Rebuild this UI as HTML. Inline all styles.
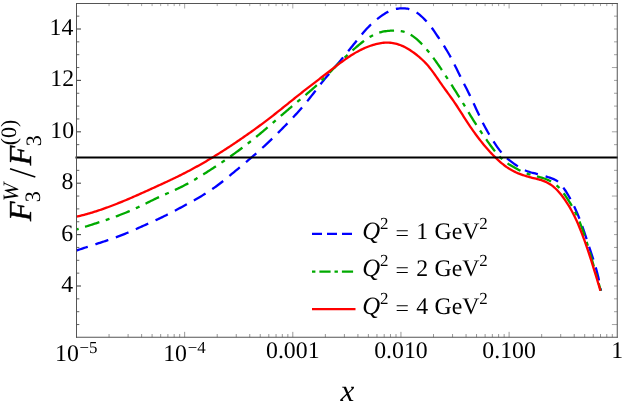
<!DOCTYPE html>
<html><head><meta charset="utf-8"><title>plot</title>
<style>
html,body{margin:0;padding:0;background:#fff;}
body{width:623px;height:413px;overflow:hidden;font-family:"Liberation Serif",serif;}
svg{display:block;will-change:transform;}
text{font-family:"Liberation Serif",serif;fill:#000;text-rendering:geometricPrecision;}
.it{font-style:italic;}
</style></head><body>
<svg width="623" height="413" viewBox="0 0 623 413">
<rect x="0" y="0" width="623" height="413" fill="#fff"/>

<line x1="76.50" y1="324.55" x2="79.30" y2="324.55" stroke="#505050" stroke-width="0.9"/>
<line x1="617.25" y1="324.55" x2="611.90" y2="324.55" stroke="#505050" stroke-width="0.52"/>
<line x1="76.50" y1="311.70" x2="79.30" y2="311.70" stroke="#505050" stroke-width="0.9"/>
<line x1="617.25" y1="311.70" x2="614.00" y2="311.70" stroke="#505050" stroke-width="0.52"/>
<line x1="76.50" y1="298.85" x2="79.30" y2="298.85" stroke="#505050" stroke-width="0.9"/>
<line x1="617.25" y1="298.85" x2="614.00" y2="298.85" stroke="#505050" stroke-width="0.52"/>
<line x1="76.50" y1="286.00" x2="81.00" y2="286.00" stroke="#505050" stroke-width="1.15"/>
<line x1="617.25" y1="286.00" x2="614.00" y2="286.00" stroke="#505050" stroke-width="0.52"/>
<line x1="76.50" y1="273.15" x2="79.30" y2="273.15" stroke="#505050" stroke-width="0.9"/>
<line x1="617.25" y1="273.15" x2="614.00" y2="273.15" stroke="#505050" stroke-width="0.52"/>
<line x1="76.50" y1="260.30" x2="79.30" y2="260.30" stroke="#505050" stroke-width="0.9"/>
<line x1="617.25" y1="260.30" x2="611.90" y2="260.30" stroke="#505050" stroke-width="0.52"/>
<line x1="76.50" y1="247.45" x2="79.30" y2="247.45" stroke="#505050" stroke-width="0.9"/>
<line x1="617.25" y1="247.45" x2="614.00" y2="247.45" stroke="#505050" stroke-width="0.52"/>
<line x1="76.50" y1="234.60" x2="81.00" y2="234.60" stroke="#505050" stroke-width="1.15"/>
<line x1="617.25" y1="234.60" x2="614.00" y2="234.60" stroke="#505050" stroke-width="0.52"/>
<line x1="76.50" y1="221.75" x2="79.30" y2="221.75" stroke="#505050" stroke-width="0.9"/>
<line x1="617.25" y1="221.75" x2="614.00" y2="221.75" stroke="#505050" stroke-width="0.52"/>
<line x1="76.50" y1="208.90" x2="79.30" y2="208.90" stroke="#505050" stroke-width="0.9"/>
<line x1="617.25" y1="208.90" x2="614.00" y2="208.90" stroke="#505050" stroke-width="0.52"/>
<line x1="76.50" y1="196.05" x2="79.30" y2="196.05" stroke="#505050" stroke-width="0.9"/>
<line x1="617.25" y1="196.05" x2="611.90" y2="196.05" stroke="#505050" stroke-width="0.52"/>
<line x1="76.50" y1="183.20" x2="81.00" y2="183.20" stroke="#505050" stroke-width="1.15"/>
<line x1="617.25" y1="183.20" x2="614.00" y2="183.20" stroke="#505050" stroke-width="0.52"/>
<line x1="76.50" y1="170.35" x2="79.30" y2="170.35" stroke="#505050" stroke-width="0.9"/>
<line x1="617.25" y1="170.35" x2="614.00" y2="170.35" stroke="#505050" stroke-width="0.52"/>
<line x1="76.50" y1="157.50" x2="79.30" y2="157.50" stroke="#505050" stroke-width="0.9"/>
<line x1="617.25" y1="157.50" x2="614.00" y2="157.50" stroke="#505050" stroke-width="0.52"/>
<line x1="76.50" y1="144.65" x2="79.30" y2="144.65" stroke="#505050" stroke-width="0.9"/>
<line x1="617.25" y1="144.65" x2="614.00" y2="144.65" stroke="#505050" stroke-width="0.52"/>
<line x1="76.50" y1="131.80" x2="81.00" y2="131.80" stroke="#505050" stroke-width="1.15"/>
<line x1="617.25" y1="131.80" x2="611.90" y2="131.80" stroke="#505050" stroke-width="0.52"/>
<line x1="76.50" y1="118.95" x2="79.30" y2="118.95" stroke="#505050" stroke-width="0.9"/>
<line x1="617.25" y1="118.95" x2="614.00" y2="118.95" stroke="#505050" stroke-width="0.52"/>
<line x1="76.50" y1="106.10" x2="79.30" y2="106.10" stroke="#505050" stroke-width="0.9"/>
<line x1="617.25" y1="106.10" x2="614.00" y2="106.10" stroke="#505050" stroke-width="0.52"/>
<line x1="76.50" y1="93.25" x2="79.30" y2="93.25" stroke="#505050" stroke-width="0.9"/>
<line x1="617.25" y1="93.25" x2="614.00" y2="93.25" stroke="#505050" stroke-width="0.52"/>
<line x1="76.50" y1="80.40" x2="81.00" y2="80.40" stroke="#505050" stroke-width="1.15"/>
<line x1="617.25" y1="80.40" x2="614.00" y2="80.40" stroke="#505050" stroke-width="0.52"/>
<line x1="76.50" y1="67.55" x2="79.30" y2="67.55" stroke="#505050" stroke-width="0.9"/>
<line x1="617.25" y1="67.55" x2="611.90" y2="67.55" stroke="#505050" stroke-width="0.52"/>
<line x1="76.50" y1="54.70" x2="79.30" y2="54.70" stroke="#505050" stroke-width="0.9"/>
<line x1="617.25" y1="54.70" x2="614.00" y2="54.70" stroke="#505050" stroke-width="0.52"/>
<line x1="76.50" y1="41.85" x2="79.30" y2="41.85" stroke="#505050" stroke-width="0.9"/>
<line x1="617.25" y1="41.85" x2="614.00" y2="41.85" stroke="#505050" stroke-width="0.52"/>
<line x1="76.50" y1="29.00" x2="81.00" y2="29.00" stroke="#505050" stroke-width="1.15"/>
<line x1="617.25" y1="29.00" x2="614.00" y2="29.00" stroke="#505050" stroke-width="0.52"/>
<line x1="76.50" y1="16.15" x2="79.30" y2="16.15" stroke="#505050" stroke-width="0.9"/>
<line x1="617.25" y1="16.15" x2="614.00" y2="16.15" stroke="#505050" stroke-width="0.52"/>
<line x1="109.06" y1="337.25" x2="109.06" y2="334.00" stroke="#505050" stroke-width="0.6"/>
<line x1="109.06" y1="3.50" x2="109.06" y2="6.10" stroke="#505050" stroke-width="0.5"/>
<line x1="128.10" y1="337.25" x2="128.10" y2="334.00" stroke="#505050" stroke-width="0.6"/>
<line x1="128.10" y1="3.50" x2="128.10" y2="6.10" stroke="#505050" stroke-width="0.5"/>
<line x1="141.61" y1="337.25" x2="141.61" y2="334.00" stroke="#505050" stroke-width="0.6"/>
<line x1="141.61" y1="3.50" x2="141.61" y2="6.10" stroke="#505050" stroke-width="0.5"/>
<line x1="152.09" y1="337.25" x2="152.09" y2="334.00" stroke="#505050" stroke-width="0.6"/>
<line x1="152.09" y1="3.50" x2="152.09" y2="6.10" stroke="#505050" stroke-width="0.5"/>
<line x1="160.66" y1="337.25" x2="160.66" y2="334.00" stroke="#505050" stroke-width="0.6"/>
<line x1="160.66" y1="3.50" x2="160.66" y2="6.10" stroke="#505050" stroke-width="0.5"/>
<line x1="167.90" y1="337.25" x2="167.90" y2="334.00" stroke="#505050" stroke-width="0.6"/>
<line x1="167.90" y1="3.50" x2="167.90" y2="6.10" stroke="#505050" stroke-width="0.5"/>
<line x1="174.17" y1="337.25" x2="174.17" y2="334.00" stroke="#505050" stroke-width="0.6"/>
<line x1="174.17" y1="3.50" x2="174.17" y2="6.10" stroke="#505050" stroke-width="0.5"/>
<line x1="179.70" y1="337.25" x2="179.70" y2="334.00" stroke="#505050" stroke-width="0.6"/>
<line x1="179.70" y1="3.50" x2="179.70" y2="6.10" stroke="#505050" stroke-width="0.5"/>
<line x1="184.65" y1="337.25" x2="184.65" y2="331.85" stroke="#505050" stroke-width="0.6"/>
<line x1="184.65" y1="3.50" x2="184.65" y2="8.50" stroke="#505050" stroke-width="0.5"/>
<line x1="217.21" y1="337.25" x2="217.21" y2="334.00" stroke="#505050" stroke-width="0.6"/>
<line x1="217.21" y1="3.50" x2="217.21" y2="6.10" stroke="#505050" stroke-width="0.5"/>
<line x1="236.25" y1="337.25" x2="236.25" y2="334.00" stroke="#505050" stroke-width="0.6"/>
<line x1="236.25" y1="3.50" x2="236.25" y2="6.10" stroke="#505050" stroke-width="0.5"/>
<line x1="249.76" y1="337.25" x2="249.76" y2="334.00" stroke="#505050" stroke-width="0.6"/>
<line x1="249.76" y1="3.50" x2="249.76" y2="6.10" stroke="#505050" stroke-width="0.5"/>
<line x1="260.24" y1="337.25" x2="260.24" y2="334.00" stroke="#505050" stroke-width="0.6"/>
<line x1="260.24" y1="3.50" x2="260.24" y2="6.10" stroke="#505050" stroke-width="0.5"/>
<line x1="268.81" y1="337.25" x2="268.81" y2="334.00" stroke="#505050" stroke-width="0.6"/>
<line x1="268.81" y1="3.50" x2="268.81" y2="6.10" stroke="#505050" stroke-width="0.5"/>
<line x1="276.05" y1="337.25" x2="276.05" y2="334.00" stroke="#505050" stroke-width="0.6"/>
<line x1="276.05" y1="3.50" x2="276.05" y2="6.10" stroke="#505050" stroke-width="0.5"/>
<line x1="282.32" y1="337.25" x2="282.32" y2="334.00" stroke="#505050" stroke-width="0.6"/>
<line x1="282.32" y1="3.50" x2="282.32" y2="6.10" stroke="#505050" stroke-width="0.5"/>
<line x1="287.85" y1="337.25" x2="287.85" y2="334.00" stroke="#505050" stroke-width="0.6"/>
<line x1="287.85" y1="3.50" x2="287.85" y2="6.10" stroke="#505050" stroke-width="0.5"/>
<line x1="292.80" y1="337.25" x2="292.80" y2="331.85" stroke="#505050" stroke-width="0.6"/>
<line x1="292.80" y1="3.50" x2="292.80" y2="8.50" stroke="#505050" stroke-width="0.5"/>
<line x1="325.36" y1="337.25" x2="325.36" y2="334.00" stroke="#505050" stroke-width="0.6"/>
<line x1="325.36" y1="3.50" x2="325.36" y2="6.10" stroke="#505050" stroke-width="0.5"/>
<line x1="344.40" y1="337.25" x2="344.40" y2="334.00" stroke="#505050" stroke-width="0.6"/>
<line x1="344.40" y1="3.50" x2="344.40" y2="6.10" stroke="#505050" stroke-width="0.5"/>
<line x1="357.91" y1="337.25" x2="357.91" y2="334.00" stroke="#505050" stroke-width="0.6"/>
<line x1="357.91" y1="3.50" x2="357.91" y2="6.10" stroke="#505050" stroke-width="0.5"/>
<line x1="368.39" y1="337.25" x2="368.39" y2="334.00" stroke="#505050" stroke-width="0.6"/>
<line x1="368.39" y1="3.50" x2="368.39" y2="6.10" stroke="#505050" stroke-width="0.5"/>
<line x1="376.96" y1="337.25" x2="376.96" y2="334.00" stroke="#505050" stroke-width="0.6"/>
<line x1="376.96" y1="3.50" x2="376.96" y2="6.10" stroke="#505050" stroke-width="0.5"/>
<line x1="384.20" y1="337.25" x2="384.20" y2="334.00" stroke="#505050" stroke-width="0.6"/>
<line x1="384.20" y1="3.50" x2="384.20" y2="6.10" stroke="#505050" stroke-width="0.5"/>
<line x1="390.47" y1="337.25" x2="390.47" y2="334.00" stroke="#505050" stroke-width="0.6"/>
<line x1="390.47" y1="3.50" x2="390.47" y2="6.10" stroke="#505050" stroke-width="0.5"/>
<line x1="396.00" y1="337.25" x2="396.00" y2="334.00" stroke="#505050" stroke-width="0.6"/>
<line x1="396.00" y1="3.50" x2="396.00" y2="6.10" stroke="#505050" stroke-width="0.5"/>
<line x1="400.95" y1="337.25" x2="400.95" y2="331.85" stroke="#505050" stroke-width="0.6"/>
<line x1="400.95" y1="3.50" x2="400.95" y2="8.50" stroke="#505050" stroke-width="0.5"/>
<line x1="433.51" y1="337.25" x2="433.51" y2="334.00" stroke="#505050" stroke-width="0.6"/>
<line x1="433.51" y1="3.50" x2="433.51" y2="6.10" stroke="#505050" stroke-width="0.5"/>
<line x1="452.55" y1="337.25" x2="452.55" y2="334.00" stroke="#505050" stroke-width="0.6"/>
<line x1="452.55" y1="3.50" x2="452.55" y2="6.10" stroke="#505050" stroke-width="0.5"/>
<line x1="466.06" y1="337.25" x2="466.06" y2="334.00" stroke="#505050" stroke-width="0.6"/>
<line x1="466.06" y1="3.50" x2="466.06" y2="6.10" stroke="#505050" stroke-width="0.5"/>
<line x1="476.54" y1="337.25" x2="476.54" y2="334.00" stroke="#505050" stroke-width="0.6"/>
<line x1="476.54" y1="3.50" x2="476.54" y2="6.10" stroke="#505050" stroke-width="0.5"/>
<line x1="485.11" y1="337.25" x2="485.11" y2="334.00" stroke="#505050" stroke-width="0.6"/>
<line x1="485.11" y1="3.50" x2="485.11" y2="6.10" stroke="#505050" stroke-width="0.5"/>
<line x1="492.35" y1="337.25" x2="492.35" y2="334.00" stroke="#505050" stroke-width="0.6"/>
<line x1="492.35" y1="3.50" x2="492.35" y2="6.10" stroke="#505050" stroke-width="0.5"/>
<line x1="498.62" y1="337.25" x2="498.62" y2="334.00" stroke="#505050" stroke-width="0.6"/>
<line x1="498.62" y1="3.50" x2="498.62" y2="6.10" stroke="#505050" stroke-width="0.5"/>
<line x1="504.15" y1="337.25" x2="504.15" y2="334.00" stroke="#505050" stroke-width="0.6"/>
<line x1="504.15" y1="3.50" x2="504.15" y2="6.10" stroke="#505050" stroke-width="0.5"/>
<line x1="509.10" y1="337.25" x2="509.10" y2="331.85" stroke="#505050" stroke-width="0.6"/>
<line x1="509.10" y1="3.50" x2="509.10" y2="8.50" stroke="#505050" stroke-width="0.5"/>
<line x1="541.66" y1="337.25" x2="541.66" y2="334.00" stroke="#505050" stroke-width="0.6"/>
<line x1="541.66" y1="3.50" x2="541.66" y2="6.10" stroke="#505050" stroke-width="0.5"/>
<line x1="560.70" y1="337.25" x2="560.70" y2="334.00" stroke="#505050" stroke-width="0.6"/>
<line x1="560.70" y1="3.50" x2="560.70" y2="6.10" stroke="#505050" stroke-width="0.5"/>
<line x1="574.21" y1="337.25" x2="574.21" y2="334.00" stroke="#505050" stroke-width="0.6"/>
<line x1="574.21" y1="3.50" x2="574.21" y2="6.10" stroke="#505050" stroke-width="0.5"/>
<line x1="584.69" y1="337.25" x2="584.69" y2="334.00" stroke="#505050" stroke-width="0.6"/>
<line x1="584.69" y1="3.50" x2="584.69" y2="6.10" stroke="#505050" stroke-width="0.5"/>
<line x1="593.26" y1="337.25" x2="593.26" y2="334.00" stroke="#505050" stroke-width="0.6"/>
<line x1="593.26" y1="3.50" x2="593.26" y2="6.10" stroke="#505050" stroke-width="0.5"/>
<line x1="600.50" y1="337.25" x2="600.50" y2="334.00" stroke="#505050" stroke-width="0.6"/>
<line x1="600.50" y1="3.50" x2="600.50" y2="6.10" stroke="#505050" stroke-width="0.5"/>
<line x1="606.77" y1="337.25" x2="606.77" y2="334.00" stroke="#505050" stroke-width="0.6"/>
<line x1="606.77" y1="3.50" x2="606.77" y2="6.10" stroke="#505050" stroke-width="0.5"/>
<line x1="612.30" y1="337.25" x2="612.30" y2="334.00" stroke="#505050" stroke-width="0.6"/>
<line x1="612.30" y1="3.50" x2="612.30" y2="6.10" stroke="#505050" stroke-width="0.5"/>
<path d="M76.30,250.60 L77.62,250.14 L78.93,249.68 L80.25,249.23 L81.56,248.79 L82.88,248.34 L84.19,247.91 L85.51,247.47 L86.82,247.04 L88.14,246.61 L89.45,246.19 L90.77,245.76 L92.08,245.34 L93.40,244.91 L94.71,244.49 L96.03,244.07 L97.34,243.64 L98.66,243.22 L99.97,242.79 L101.29,242.36 L102.60,241.93 L103.92,241.50 L105.23,241.07 L106.55,240.63 L107.86,240.18 L109.18,239.73 L110.49,239.28 L111.81,238.82 L113.12,238.36 L114.44,237.89 L115.75,237.41 L117.07,236.93 L118.38,236.43 L119.70,235.93 L121.01,235.43 L122.33,234.91 L123.64,234.38 L124.96,233.85 L126.27,233.30 L127.59,232.75 L128.90,232.20 L130.22,231.63 L131.53,231.06 L132.85,230.49 L134.16,229.91 L135.48,229.33 L136.79,228.74 L138.11,228.16 L139.42,227.57 L140.74,226.98 L142.05,226.39 L143.37,225.80 L144.68,225.21 L146.00,224.63 L147.31,224.04 L148.63,223.45 L149.94,222.86 L151.26,222.26 L152.57,221.66 L153.89,221.06 L155.20,220.46 L156.52,219.85 L157.83,219.24 L159.15,218.62 L160.46,217.99 L161.78,217.36 L163.09,216.72 L164.41,216.07 L165.72,215.41 L167.04,214.75 L168.35,214.08 L169.67,213.41 L170.98,212.73 L172.30,212.05 L173.61,211.36 L174.93,210.67 L176.24,209.98 L177.56,209.28 L178.87,208.58 L180.19,207.88 L181.50,207.18 L182.82,206.47 L184.13,205.77 L185.45,205.06 L186.76,204.35 L188.08,203.63 L189.39,202.91 L190.71,202.18 L192.02,201.45 L193.34,200.72 L194.65,199.98 L195.97,199.23 L197.28,198.47 L198.60,197.71 L199.91,196.93 L201.23,196.15 L202.54,195.36 L203.86,194.56 L205.17,193.74 L206.49,192.92 L207.80,192.08 L209.12,191.22 L210.43,190.35 L211.75,189.47 L213.06,188.57 L214.38,187.65 L215.69,186.71 L217.01,185.76 L218.32,184.78 L219.64,183.79 L220.95,182.77 L222.27,181.74 L223.58,180.69 L224.90,179.63 L226.21,178.56 L227.53,177.48 L228.84,176.40 L230.16,175.31 L231.47,174.22 L232.79,173.13 L234.10,172.05 L235.42,170.96 L236.73,169.88 L238.05,168.79 L239.36,167.70 L240.68,166.61 L241.99,165.52 L243.31,164.42 L244.62,163.32 L245.94,162.22 L247.25,161.11 L248.57,159.99 L249.88,158.87 L251.20,157.74 L252.52,156.61 L253.83,155.47 L255.15,154.32 L256.46,153.16 L257.78,151.99 L259.09,150.82 L260.41,149.64 L261.72,148.45 L263.04,147.25 L264.35,146.04 L265.67,144.82 L266.98,143.59 L268.30,142.36 L269.61,141.11 L270.93,139.85 L272.24,138.59 L273.56,137.31 L274.87,136.03 L276.19,134.74 L277.50,133.43 L278.82,132.12 L280.13,130.81 L281.45,129.48 L282.76,128.15 L284.08,126.80 L285.39,125.46 L286.71,124.10 L288.02,122.74 L289.34,121.37 L290.65,119.99 L291.97,118.60 L293.28,117.19 L294.60,115.78 L295.91,114.35 L297.23,112.90 L298.54,111.44 L299.86,109.96 L301.17,108.46 L302.49,106.93 L303.80,105.39 L305.12,103.82 L306.43,102.23 L307.75,100.61 L309.06,98.97 L310.38,97.31 L311.69,95.63 L313.01,93.94 L314.32,92.24 L315.64,90.53 L316.95,88.83 L318.27,87.13 L319.58,85.44 L320.90,83.76 L322.21,82.10 L323.53,80.47 L324.84,78.86 L326.16,77.27 L327.47,75.70 L328.79,74.15 L330.10,72.61 L331.42,71.09 L332.73,69.56 L334.05,68.04 L335.36,66.52 L336.68,65.00 L337.99,63.47 L339.31,61.93 L340.62,60.37 L341.94,58.80 L343.25,57.22 L344.57,55.63 L345.88,54.02 L347.20,52.41 L348.51,50.80 L349.83,49.17 L351.14,47.55 L352.46,45.92 L353.77,44.29 L355.09,42.66 L356.40,41.04 L357.72,39.41 L359.03,37.80 L360.35,36.20 L361.66,34.62 L362.98,33.06 L364.29,31.53 L365.61,30.04 L366.92,28.59 L368.24,27.19 L369.55,25.84 L370.87,24.55 L372.18,23.31 L373.50,22.12 L374.81,20.98 L376.13,19.89 L377.44,18.84 L378.76,17.82 L380.07,16.85 L381.39,15.91 L382.70,15.01 L384.02,14.15 L385.33,13.34 L386.65,12.58 L387.96,11.87 L389.28,11.22 L390.59,10.64 L391.91,10.13 L393.22,9.69 L394.54,9.32 L395.85,9.00 L397.17,8.75 L398.48,8.56 L399.80,8.42 L401.11,8.33 L402.43,8.29 L403.74,8.31 L405.06,8.38 L406.37,8.52 L407.69,8.72 L409.00,9.01 L410.32,9.37 L411.63,9.83 L412.95,10.39 L414.26,11.05 L415.58,11.81 L416.89,12.67 L418.21,13.62 L419.52,14.66 L420.84,15.78 L422.15,16.98 L423.47,18.25 L424.78,19.59 L426.10,20.99 L427.42,22.46 L428.73,23.99 L430.05,25.60 L431.36,27.29 L432.68,29.05 L433.99,30.90 L435.31,32.82 L436.62,34.78 L437.94,36.75 L439.25,38.72 L440.57,40.69 L441.88,42.67 L443.20,44.68 L444.51,46.73 L445.83,48.83 L447.14,50.99 L448.46,53.22 L449.77,55.54 L451.09,57.96 L452.40,60.46 L453.72,63.05 L455.03,65.68 L456.35,68.35 L457.66,71.04 L458.98,73.72 L460.29,76.38 L461.61,79.01 L462.92,81.60 L464.24,84.18 L465.55,86.76 L466.87,89.35 L468.18,91.97 L469.50,94.63 L470.81,97.35 L472.13,100.12 L473.44,102.94 L474.76,105.79 L476.07,108.65 L477.39,111.50 L478.70,114.33 L480.02,117.11 L481.33,119.84 L482.65,122.49 L483.96,125.06 L485.28,127.53 L486.59,129.92 L487.91,132.23 L489.22,134.48 L490.54,136.67 L491.85,138.79 L493.17,140.88 L494.48,142.91 L495.80,144.89 L497.11,146.80 L498.43,148.64 L499.74,150.40 L501.06,152.06 L502.37,153.62 L503.69,155.06 L505.00,156.40 L506.32,157.65 L507.63,158.81 L508.95,159.90 L510.26,160.94 L511.58,161.93 L512.89,162.89 L514.21,163.84 L515.52,164.76 L516.84,165.65 L518.15,166.51 L519.47,167.33 L520.78,168.11 L522.10,168.85 L523.41,169.53 L524.73,170.16 L526.04,170.73 L527.36,171.24 L528.67,171.69 L529.99,172.11 L531.30,172.49 L532.62,172.84 L533.93,173.17 L535.25,173.49 L536.56,173.82 L537.88,174.14 L539.19,174.49 L540.51,174.84 L541.82,175.21 L543.14,175.60 L544.45,175.99 L545.77,176.40 L547.08,176.81 L548.40,177.24 L549.71,177.67 L551.03,178.11 L552.34,178.57 L553.66,179.08 L554.97,179.68 L556.29,180.42 L557.60,181.32 L558.92,182.44 L560.23,183.76 L561.55,185.28 L562.86,186.97 L564.18,188.80 L565.49,190.74 L566.81,192.80 L568.12,194.97 L569.44,197.25 L570.75,199.64 L572.07,202.15 L573.38,204.78 L574.70,207.54 L576.01,210.44 L577.33,213.47 L578.64,216.64 L579.96,219.97 L581.27,223.45 L582.59,227.10 L583.90,230.91 L585.22,234.85 L586.53,238.87 L587.85,242.93 L589.16,246.97 L590.48,250.94 L591.79,254.84 L593.11,258.78 L594.42,262.90 L595.74,267.33 L597.05,272.19 L598.37,277.61 L599.68,283.74 L601.00,290.70" fill="none" stroke="#0000ff" stroke-width="2.3" stroke-dasharray="13.6 8" stroke-dashoffset="1.5"/>
<path d="M76.30,229.55 L77.61,229.13 L78.93,228.72 L80.24,228.30 L81.56,227.89 L82.87,227.47 L84.19,227.06 L85.50,226.65 L86.82,226.23 L88.13,225.82 L89.45,225.40 L90.76,224.98 L92.07,224.56 L93.39,224.14 L94.70,223.72 L96.02,223.30 L97.33,222.87 L98.65,222.44 L99.96,222.01 L101.28,221.58 L102.59,221.14 L103.91,220.70 L105.22,220.25 L106.53,219.81 L107.85,219.35 L109.16,218.90 L110.48,218.43 L111.79,217.97 L113.11,217.49 L114.42,217.02 L115.74,216.54 L117.05,216.05 L118.37,215.55 L119.68,215.05 L120.99,214.54 L122.31,214.03 L123.62,213.51 L124.94,212.98 L126.25,212.45 L127.57,211.90 L128.88,211.35 L130.20,210.79 L131.51,210.22 L132.83,209.65 L134.14,209.06 L135.45,208.47 L136.77,207.86 L138.08,207.25 L139.40,206.63 L140.71,205.99 L142.03,205.36 L143.34,204.71 L144.66,204.06 L145.97,203.41 L147.28,202.76 L148.60,202.10 L149.91,201.45 L151.23,200.80 L152.54,200.16 L153.86,199.52 L155.17,198.89 L156.49,198.27 L157.80,197.66 L159.12,197.06 L160.43,196.46 L161.74,195.87 L163.06,195.29 L164.37,194.70 L165.69,194.12 L167.00,193.54 L168.32,192.96 L169.63,192.38 L170.95,191.80 L172.26,191.21 L173.58,190.62 L174.89,190.01 L176.20,189.41 L177.52,188.79 L178.83,188.16 L180.15,187.52 L181.46,186.87 L182.78,186.20 L184.09,185.52 L185.41,184.83 L186.72,184.13 L188.04,183.41 L189.35,182.68 L190.66,181.94 L191.98,181.19 L193.29,180.43 L194.61,179.67 L195.92,178.89 L197.24,178.10 L198.55,177.31 L199.87,176.51 L201.18,175.70 L202.50,174.89 L203.81,174.07 L205.12,173.24 L206.44,172.41 L207.75,171.58 L209.07,170.74 L210.38,169.89 L211.70,169.05 L213.01,168.19 L214.33,167.33 L215.64,166.47 L216.96,165.60 L218.27,164.73 L219.58,163.85 L220.90,162.97 L222.21,162.08 L223.53,161.18 L224.84,160.28 L226.16,159.38 L227.47,158.47 L228.79,157.55 L230.10,156.63 L231.42,155.70 L232.73,154.76 L234.04,153.82 L235.36,152.88 L236.67,151.92 L237.99,150.96 L239.30,150.00 L240.62,149.02 L241.93,148.04 L243.25,147.05 L244.56,146.06 L245.88,145.06 L247.19,144.05 L248.50,143.03 L249.82,142.00 L251.13,140.97 L252.45,139.93 L253.76,138.88 L255.08,137.82 L256.39,136.75 L257.71,135.68 L259.02,134.59 L260.34,133.50 L261.65,132.40 L262.96,131.30 L264.28,130.18 L265.59,129.07 L266.91,127.95 L268.22,126.82 L269.54,125.69 L270.85,124.56 L272.17,123.43 L273.48,122.29 L274.79,121.15 L276.11,120.02 L277.42,118.88 L278.74,117.74 L280.05,116.61 L281.37,115.47 L282.68,114.34 L284.00,113.21 L285.31,112.09 L286.63,110.96 L287.94,109.84 L289.25,108.72 L290.57,107.60 L291.88,106.49 L293.20,105.38 L294.51,104.27 L295.83,103.16 L297.14,102.06 L298.46,100.96 L299.77,99.85 L301.09,98.76 L302.40,97.66 L303.71,96.55 L305.03,95.45 L306.34,94.34 L307.66,93.22 L308.97,92.10 L310.29,90.96 L311.60,89.82 L312.92,88.66 L314.23,87.48 L315.55,86.29 L316.86,85.08 L318.17,83.85 L319.49,82.61 L320.80,81.34 L322.12,80.06 L323.43,78.77 L324.75,77.46 L326.06,76.14 L327.38,74.82 L328.69,73.49 L330.01,72.16 L331.32,70.83 L332.63,69.49 L333.95,68.16 L335.26,66.84 L336.58,65.52 L337.89,64.21 L339.21,62.91 L340.52,61.62 L341.84,60.34 L343.15,59.08 L344.47,57.82 L345.78,56.58 L347.09,55.35 L348.41,54.13 L349.72,52.93 L351.04,51.74 L352.35,50.56 L353.67,49.40 L354.98,48.25 L356.30,47.11 L357.61,46.00 L358.93,44.90 L360.24,43.82 L361.55,42.77 L362.87,41.75 L364.18,40.76 L365.50,39.80 L366.81,38.89 L368.13,38.02 L369.44,37.19 L370.76,36.41 L372.07,35.68 L373.39,35.01 L374.70,34.38 L376.01,33.81 L377.33,33.29 L378.64,32.82 L379.96,32.41 L381.27,32.05 L382.59,31.74 L383.90,31.48 L385.22,31.26 L386.53,31.08 L387.85,30.93 L389.16,30.81 L390.47,30.71 L391.79,30.64 L393.10,30.58 L394.42,30.55 L395.73,30.56 L397.05,30.61 L398.36,30.70 L399.68,30.85 L400.99,31.06 L402.31,31.33 L403.62,31.67 L404.93,32.09 L406.25,32.57 L407.56,33.14 L408.88,33.78 L410.19,34.49 L411.51,35.28 L412.82,36.15 L414.14,37.09 L415.45,38.11 L416.76,39.20 L418.08,40.36 L419.39,41.58 L420.71,42.86 L422.02,44.21 L423.34,45.62 L424.65,47.08 L425.97,48.59 L427.28,50.15 L428.60,51.76 L429.91,53.42 L431.22,55.12 L432.54,56.86 L433.85,58.63 L435.17,60.44 L436.48,62.27 L437.80,64.14 L439.11,66.03 L440.43,67.94 L441.74,69.88 L443.06,71.83 L444.37,73.81 L445.68,75.80 L447.00,77.81 L448.31,79.83 L449.63,81.86 L450.94,83.90 L452.26,85.95 L453.57,88.02 L454.89,90.09 L456.20,92.17 L457.52,94.27 L458.83,96.38 L460.14,98.50 L461.46,100.64 L462.77,102.79 L464.09,104.96 L465.40,107.13 L466.72,109.31 L468.03,111.49 L469.35,113.66 L470.66,115.82 L471.98,117.96 L473.29,120.08 L474.60,122.16 L475.92,124.22 L477.23,126.24 L478.55,128.23 L479.86,130.20 L481.18,132.14 L482.49,134.06 L483.81,135.96 L485.12,137.84 L486.44,139.71 L487.75,141.57 L489.06,143.42 L490.38,145.24 L491.69,147.04 L493.01,148.80 L494.32,150.51 L495.64,152.16 L496.95,153.74 L498.27,155.25 L499.58,156.66 L500.90,157.99 L502.21,159.21 L503.52,160.35 L504.84,161.40 L506.15,162.39 L507.47,163.32 L508.78,164.19 L510.10,165.02 L511.41,165.82 L512.73,166.60 L514.04,167.36 L515.36,168.10 L516.67,168.83 L517.98,169.53 L519.30,170.21 L520.61,170.87 L521.93,171.49 L523.24,172.08 L524.56,172.63 L525.87,173.14 L527.19,173.61 L528.50,174.05 L529.82,174.46 L531.13,174.85 L532.44,175.21 L533.76,175.57 L535.07,175.91 L536.39,176.25 L537.70,176.60 L539.02,176.94 L540.33,177.31 L541.65,177.69 L542.96,178.10 L544.27,178.53 L545.59,179.00 L546.90,179.52 L548.22,180.08 L549.53,180.70 L550.85,181.38 L552.16,182.12 L553.48,182.95 L554.79,183.87 L556.11,184.89 L557.42,186.03 L558.73,187.30 L560.05,188.71 L561.36,190.26 L562.68,191.94 L563.99,193.72 L565.31,195.59 L566.62,197.53 L567.94,199.52 L569.25,201.58 L570.57,203.70 L571.88,205.92 L573.19,208.26 L574.51,210.72 L575.82,213.33 L577.14,216.10 L578.45,219.06 L579.77,222.22 L581.08,225.59 L582.40,229.17 L583.71,232.94 L585.03,236.88 L586.34,240.97 L587.65,245.19 L588.97,249.53 L590.28,253.96 L591.60,258.48 L592.91,263.05 L594.23,267.66 L595.54,272.30 L596.86,276.94 L598.17,281.56 L599.49,286.16 L600.80,290.70" fill="none" stroke="#00aa00" stroke-width="2.3" stroke-dasharray="15 6.7 4 6.7" stroke-dashoffset="23.2"/>
<path d="M76.30,216.70 L77.61,216.40 L78.93,216.10 L80.24,215.78 L81.55,215.45 L82.87,215.12 L84.18,214.77 L85.49,214.42 L86.81,214.06 L88.12,213.69 L89.44,213.31 L90.75,212.92 L92.06,212.53 L93.38,212.13 L94.69,211.72 L96.00,211.30 L97.32,210.87 L98.63,210.44 L99.94,210.00 L101.26,209.56 L102.57,209.10 L103.88,208.64 L105.20,208.18 L106.51,207.70 L107.82,207.22 L109.14,206.74 L110.45,206.25 L111.77,205.75 L113.08,205.25 L114.39,204.74 L115.71,204.22 L117.02,203.71 L118.33,203.18 L119.65,202.65 L120.96,202.12 L122.27,201.58 L123.59,201.04 L124.90,200.49 L126.21,199.94 L127.53,199.39 L128.84,198.83 L130.15,198.27 L131.47,197.70 L132.78,197.13 L134.10,196.56 L135.41,195.99 L136.72,195.41 L138.04,194.83 L139.35,194.24 L140.66,193.66 L141.98,193.07 L143.29,192.48 L144.60,191.89 L145.92,191.29 L147.23,190.70 L148.54,190.10 L149.86,189.51 L151.17,188.91 L152.48,188.31 L153.80,187.71 L155.11,187.11 L156.43,186.51 L157.74,185.90 L159.05,185.30 L160.37,184.70 L161.68,184.10 L162.99,183.49 L164.31,182.89 L165.62,182.28 L166.93,181.67 L168.25,181.05 L169.56,180.44 L170.87,179.82 L172.19,179.19 L173.50,178.57 L174.82,177.93 L176.13,177.30 L177.44,176.66 L178.76,176.01 L180.07,175.36 L181.38,174.71 L182.70,174.05 L184.01,173.38 L185.32,172.71 L186.64,172.03 L187.95,171.34 L189.26,170.65 L190.58,169.96 L191.89,169.25 L193.20,168.54 L194.52,167.83 L195.83,167.11 L197.15,166.38 L198.46,165.65 L199.77,164.91 L201.09,164.17 L202.40,163.42 L203.71,162.67 L205.03,161.91 L206.34,161.14 L207.65,160.36 L208.97,159.59 L210.28,158.80 L211.59,158.01 L212.91,157.21 L214.22,156.41 L215.53,155.60 L216.85,154.79 L218.16,153.97 L219.48,153.14 L220.79,152.31 L222.10,151.47 L223.42,150.63 L224.73,149.79 L226.04,148.94 L227.36,148.08 L228.67,147.22 L229.98,146.35 L231.30,145.48 L232.61,144.61 L233.92,143.73 L235.24,142.85 L236.55,141.96 L237.86,141.07 L239.18,140.18 L240.49,139.28 L241.81,138.38 L243.12,137.47 L244.43,136.56 L245.75,135.65 L247.06,134.73 L248.37,133.81 L249.69,132.88 L251.00,131.95 L252.31,131.01 L253.63,130.07 L254.94,129.13 L256.25,128.17 L257.57,127.22 L258.88,126.26 L260.19,125.29 L261.51,124.31 L262.82,123.34 L264.14,122.35 L265.45,121.36 L266.76,120.37 L268.08,119.36 L269.39,118.35 L270.70,117.34 L272.02,116.32 L273.33,115.29 L274.64,114.26 L275.96,113.23 L277.27,112.19 L278.58,111.14 L279.90,110.10 L281.21,109.05 L282.52,108.00 L283.84,106.94 L285.15,105.89 L286.47,104.83 L287.78,103.78 L289.09,102.72 L290.41,101.66 L291.72,100.61 L293.03,99.55 L294.35,98.50 L295.66,97.45 L296.97,96.40 L298.29,95.36 L299.60,94.32 L300.91,93.28 L302.23,92.24 L303.54,91.21 L304.85,90.19 L306.17,89.16 L307.48,88.14 L308.80,87.12 L310.11,86.11 L311.42,85.09 L312.74,84.08 L314.05,83.07 L315.36,82.06 L316.68,81.05 L317.99,80.04 L319.30,79.04 L320.62,78.03 L321.93,77.02 L323.24,76.02 L324.56,75.01 L325.87,74.00 L327.18,73.00 L328.50,71.99 L329.81,70.98 L331.13,69.96 L332.44,68.95 L333.75,67.94 L335.07,66.93 L336.38,65.93 L337.69,64.93 L339.01,63.93 L340.32,62.95 L341.63,61.97 L342.95,61.01 L344.26,60.06 L345.57,59.13 L346.89,58.21 L348.20,57.31 L349.52,56.43 L350.83,55.57 L352.14,54.73 L353.46,53.92 L354.77,53.13 L356.08,52.37 L357.40,51.63 L358.71,50.93 L360.02,50.25 L361.34,49.60 L362.65,48.97 L363.96,48.37 L365.28,47.80 L366.59,47.26 L367.90,46.74 L369.22,46.24 L370.53,45.77 L371.85,45.33 L373.16,44.92 L374.47,44.53 L375.79,44.17 L377.10,43.85 L378.41,43.56 L379.73,43.30 L381.04,43.09 L382.35,42.91 L383.67,42.77 L384.98,42.68 L386.29,42.63 L387.61,42.63 L388.92,42.68 L390.23,42.77 L391.55,42.91 L392.86,43.10 L394.18,43.34 L395.49,43.62 L396.80,43.96 L398.12,44.35 L399.43,44.79 L400.74,45.28 L402.06,45.82 L403.37,46.41 L404.68,47.06 L406.00,47.75 L407.31,48.48 L408.62,49.26 L409.94,50.09 L411.25,50.95 L412.56,51.85 L413.88,52.79 L415.19,53.77 L416.51,54.78 L417.82,55.82 L419.13,56.91 L420.45,58.04 L421.76,59.23 L423.07,60.47 L424.39,61.77 L425.70,63.14 L427.01,64.57 L428.33,66.08 L429.64,67.67 L430.95,69.34 L432.27,71.08 L433.58,72.88 L434.89,74.72 L436.21,76.60 L437.52,78.50 L438.84,80.41 L440.15,82.31 L441.46,84.21 L442.78,86.07 L444.09,87.91 L445.40,89.73 L446.72,91.53 L448.03,93.33 L449.34,95.13 L450.66,96.95 L451.97,98.78 L453.28,100.65 L454.60,102.56 L455.91,104.51 L457.22,106.50 L458.54,108.53 L459.85,110.58 L461.17,112.65 L462.48,114.72 L463.79,116.79 L465.11,118.84 L466.42,120.88 L467.73,122.88 L469.05,124.85 L470.36,126.79 L471.67,128.70 L472.99,130.58 L474.30,132.42 L475.61,134.23 L476.93,136.01 L478.24,137.76 L479.55,139.47 L480.87,141.15 L482.18,142.80 L483.50,144.41 L484.81,145.99 L486.12,147.54 L487.44,149.05 L488.75,150.53 L490.06,151.98 L491.38,153.39 L492.69,154.77 L494.00,156.11 L495.32,157.42 L496.63,158.69 L497.94,159.93 L499.26,161.12 L500.57,162.28 L501.88,163.40 L503.20,164.47 L504.51,165.49 L505.83,166.46 L507.14,167.39 L508.45,168.26 L509.77,169.08 L511.08,169.85 L512.39,170.57 L513.71,171.25 L515.02,171.89 L516.33,172.50 L517.65,173.07 L518.96,173.60 L520.27,174.11 L521.59,174.60 L522.90,175.06 L524.22,175.50 L525.53,175.93 L526.84,176.33 L528.16,176.71 L529.47,177.08 L530.78,177.43 L532.10,177.77 L533.41,178.10 L534.72,178.42 L536.04,178.74 L537.35,179.07 L538.66,179.41 L539.98,179.77 L541.29,180.17 L542.60,180.61 L543.92,181.10 L545.23,181.64 L546.55,182.24 L547.86,182.92 L549.17,183.67 L550.49,184.50 L551.80,185.41 L553.11,186.42 L554.43,187.52 L555.74,188.73 L557.05,190.03 L558.37,191.44 L559.68,192.95 L560.99,194.55 L562.31,196.23 L563.62,198.01 L564.93,199.86 L566.25,201.80 L567.56,203.81 L568.88,205.93 L570.19,208.14 L571.50,210.47 L572.82,212.92 L574.13,215.50 L575.44,218.21 L576.76,221.07 L578.07,224.07 L579.38,227.20 L580.70,230.45 L582.01,233.83 L583.32,237.33 L584.64,240.94 L585.95,244.65 L587.26,248.47 L588.58,252.38 L589.89,256.37 L591.21,260.45 L592.52,264.60 L593.83,268.82 L595.15,273.10 L596.46,277.44 L597.77,281.82 L599.09,286.24 L600.40,290.70" fill="none" stroke="#ff0000" stroke-width="2.3"/>
<line x1="75.50" y1="157.5" x2="617.85" y2="157.5" stroke="#000" stroke-width="1.8"/>
<line x1="76.50" y1="3.02" x2="76.50" y2="337.73" stroke="#4d4d4d" stroke-width="0.96"/>
<line x1="76.02" y1="3.50" x2="617.73" y2="3.50" stroke="#4d4d4d" stroke-width="0.96"/>
<line x1="617.25" y1="3.02" x2="617.25" y2="337.73" stroke="#4d4d4d" stroke-width="0.96"/>
<line x1="76.02" y1="337.25" x2="617.73" y2="337.25" stroke="#4d4d4d" stroke-width="0.96"/>
<text x="73.25" y="292.30" font-size="23.8" text-anchor="end">4</text>
<text x="73.25" y="240.90" font-size="23.8" text-anchor="end">6</text>
<text x="73.45" y="188.80" font-size="23.8" text-anchor="end">8</text>
<text x="74.05" y="137.80" font-size="23.8" text-anchor="end">10</text>
<text x="74.05" y="86.40" font-size="23.8" text-anchor="end">12</text>
<text x="73.35" y="35.30" font-size="23.8" text-anchor="end">14</text>
<text x="55.00" y="360.7" font-size="23.8">10</text><text x="79.50" y="352.70" font-size="16.90">−5</text>
<text x="163.15" y="360.7" font-size="23.8">10</text><text x="187.65" y="352.70" font-size="16.90">−4</text>
<text x="292.80" y="358.3" font-size="23.8" text-anchor="middle">0.001</text>
<text x="400.95" y="358.3" font-size="23.8" text-anchor="middle">0.010</text>
<text x="509.10" y="358.3" font-size="23.8" text-anchor="middle">0.100</text>
<text x="617.25" y="358.3" font-size="23.8" text-anchor="middle">1</text>
<text x="347.3" y="400.6" font-size="31" text-anchor="middle" class="it">x</text>
<g transform="translate(31.4,221.3) rotate(-90)">
<text x="0.3" y="0" font-size="32" class="it" stroke="#000" stroke-width="0.45">F</text>
<text x="20.1" y="-13.6" font-size="22" class="it">W</text>
<text x="19.0" y="8.5" font-size="22">3</text>
<line x1="44.3" y1="3.9" x2="52.6" y2="-21.4" stroke="#000" stroke-width="1.55"/>
<text x="56.0" y="0" font-size="32" class="it" stroke="#000" stroke-width="0.45">F</text>
<text x="76.1" y="-15.2" font-size="22">(0)</text>
<text x="75.1" y="9.4" font-size="22">3</text>
</g>
<line x1="312" y1="233.9" x2="355.5" y2="233.9" stroke="#0000ff" stroke-width="2.25" stroke-dasharray="10 5"/>
<text x="362.3" y="238.50" font-size="24.8" class="it">Q</text>
<text x="380.0" y="228.50" font-size="16.90">2</text>
<text x="395.4" y="240.70" font-size="23.8">=</text>
<text x="416.2" y="238.50" font-size="23.8">1</text>
<text x="434.5" y="238.50" font-size="23.8">GeV</text>
<text x="479.2" y="228.50" font-size="16.90">2</text>
<line x1="312" y1="271.5" x2="355.5" y2="271.5" stroke="#00aa00" stroke-width="2.25" stroke-dasharray="3.4 4 11.2 3.9"/>
<text x="362.3" y="276.10" font-size="24.8" class="it">Q</text>
<text x="380.0" y="266.10" font-size="16.90">2</text>
<text x="395.4" y="278.30" font-size="23.8">=</text>
<text x="416.2" y="276.10" font-size="23.8">2</text>
<text x="434.5" y="276.10" font-size="23.8">GeV</text>
<text x="479.2" y="266.10" font-size="16.90">2</text>
<line x1="312" y1="309.1" x2="355.5" y2="309.1" stroke="#ff0000" stroke-width="2.25"/>
<text x="362.3" y="313.70" font-size="24.8" class="it">Q</text>
<text x="380.0" y="303.70" font-size="16.90">2</text>
<text x="395.4" y="315.90" font-size="23.8">=</text>
<text x="416.2" y="313.70" font-size="23.8">4</text>
<text x="434.5" y="313.70" font-size="23.8">GeV</text>
<text x="479.2" y="303.70" font-size="16.90">2</text>
</svg></body></html>
